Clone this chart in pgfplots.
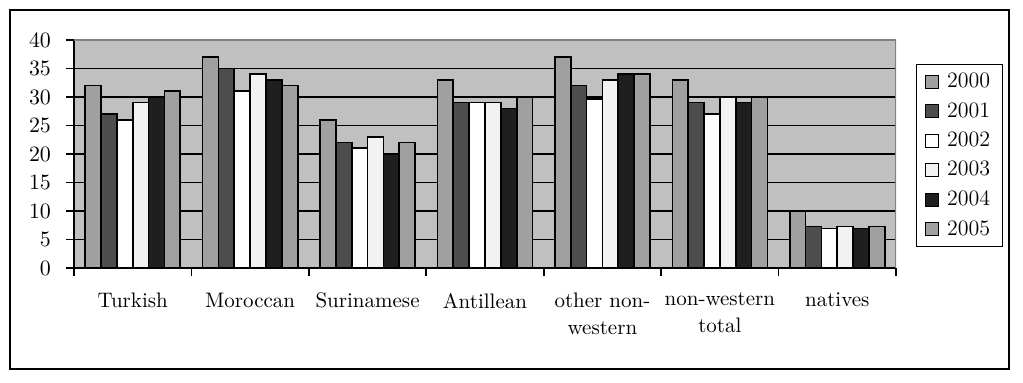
\documentclass[border=0pt]{standalone}
\usepackage{pgfplots}
\pgfplotsset{compat=1.18}
\definecolor{bg}{HTML}{C0C0C0}
\definecolor{cA}{HTML}{A0A0A0}
\definecolor{cB}{HTML}{4D4D4D}
\definecolor{cC}{HTML}{FFFFFF}
\definecolor{cD}{HTML}{F2F2F2}
\definecolor{cE}{HTML}{1F1F1F}
\definecolor{cF}{HTML}{A0A0A0}
\begin{document}
\fontsize{10}{12}\selectfont
\begin{tikzpicture}
\path[use as bounding box] (0,0) rectangle (511.5pt,191.5pt);
\draw[line width=0.75pt] (5pt,7pt) rectangle (504.5pt,186.5pt);
\begin{axis}[
  at={(37pt,57.5pt)}, anchor=south west,
  width=411pt, height=114pt, scale only axis,
  xmin=-0.5, xmax=6.5, ymin=0, ymax=40,
  ytick={0,5,...,40},
  xtick={-0.5,0.5,...,6.5}, xticklabel={\empty},
  extra x ticks={0,1,2,3,4,5,6},
  extra x tick labels={Turkish,Moroccan,Surinamese,Antillean,{other non-\\western},{non-western\\total},natives},
  extra x tick style={major tick length=0pt, xticklabel style={yshift=-9pt}},
  x tick label style={align=center, font=\fontsize{10.5}{13.5}\selectfont},
  y tick label style={font=\fontsize{10.5}{12}\selectfont, xshift=-4pt},
  axis x line*=bottom, axis y line*=left,
  axis line style={black, line width=0.8pt},
  tick align=outside, major tick length=4pt,
  tick style={black, line width=0.8pt},
  ymajorgrids, grid style={black, line width=0.7pt},
  axis background/.style={fill=bg},
  legend style={at={(1.0243,0.8947)}, anchor=north west, draw=black, line width=0.6pt,
    fill=white, font=\fontsize{11}{12}\selectfont, inner xsep=4pt, inner ysep=2.2pt, row sep=1.9pt},
  legend cell align=left,
  legend image code/.code={\draw[#1,line width=0.5pt] (0pt,-3.2pt) rectangle (6.5pt,3.3pt);
    \path[draw=none,fill=none] (0pt,0pt) -- (9pt,0pt);},
]
\addplot[ybar, bar width=0.135, bar shift=-0.3375, fill=cA, draw=black, line width=0.8pt]
  coordinates {(0,32) (1,37) (2,26) (3,33) (4,37) (5,33) (6,10)};
\addplot[ybar, bar width=0.135, bar shift=-0.2025, fill=cB, draw=black, line width=0.8pt]
  coordinates {(0,27) (1,35) (2,22) (3,29) (4,32) (5,29) (6,7.3)};
\addplot[ybar, bar width=0.135, bar shift=-0.0675, fill=cC, draw=black, line width=0.8pt]
  coordinates {(0,26) (1,31) (2,21) (3,29) (4,29.7) (5,27) (6,6.9)};
\addplot[ybar, bar width=0.135, bar shift=0.0675, fill=cD, draw=black, line width=0.8pt]
  coordinates {(0,29) (1,34) (2,23) (3,29) (4,33) (5,30) (6,7.3)};
\addplot[ybar, bar width=0.135, bar shift=0.2025, fill=cE, draw=black, line width=0.8pt]
  coordinates {(0,30) (1,33) (2,20) (3,28) (4,34) (5,29) (6,6.9)};
\addplot[ybar, bar width=0.135, bar shift=0.3375, fill=cF, draw=black, line width=0.8pt]
  coordinates {(0,31) (1,32) (2,22) (3,30) (4,34) (5,30) (6,7.3)};
\legend{2000,2001,2002,2003,2004,2005}
\draw[gray, line width=0.7pt] (rel axis cs:0,1) -- (rel axis cs:1,1) -- (rel axis cs:1,0);
\end{axis}
\end{tikzpicture}
\end{document}
